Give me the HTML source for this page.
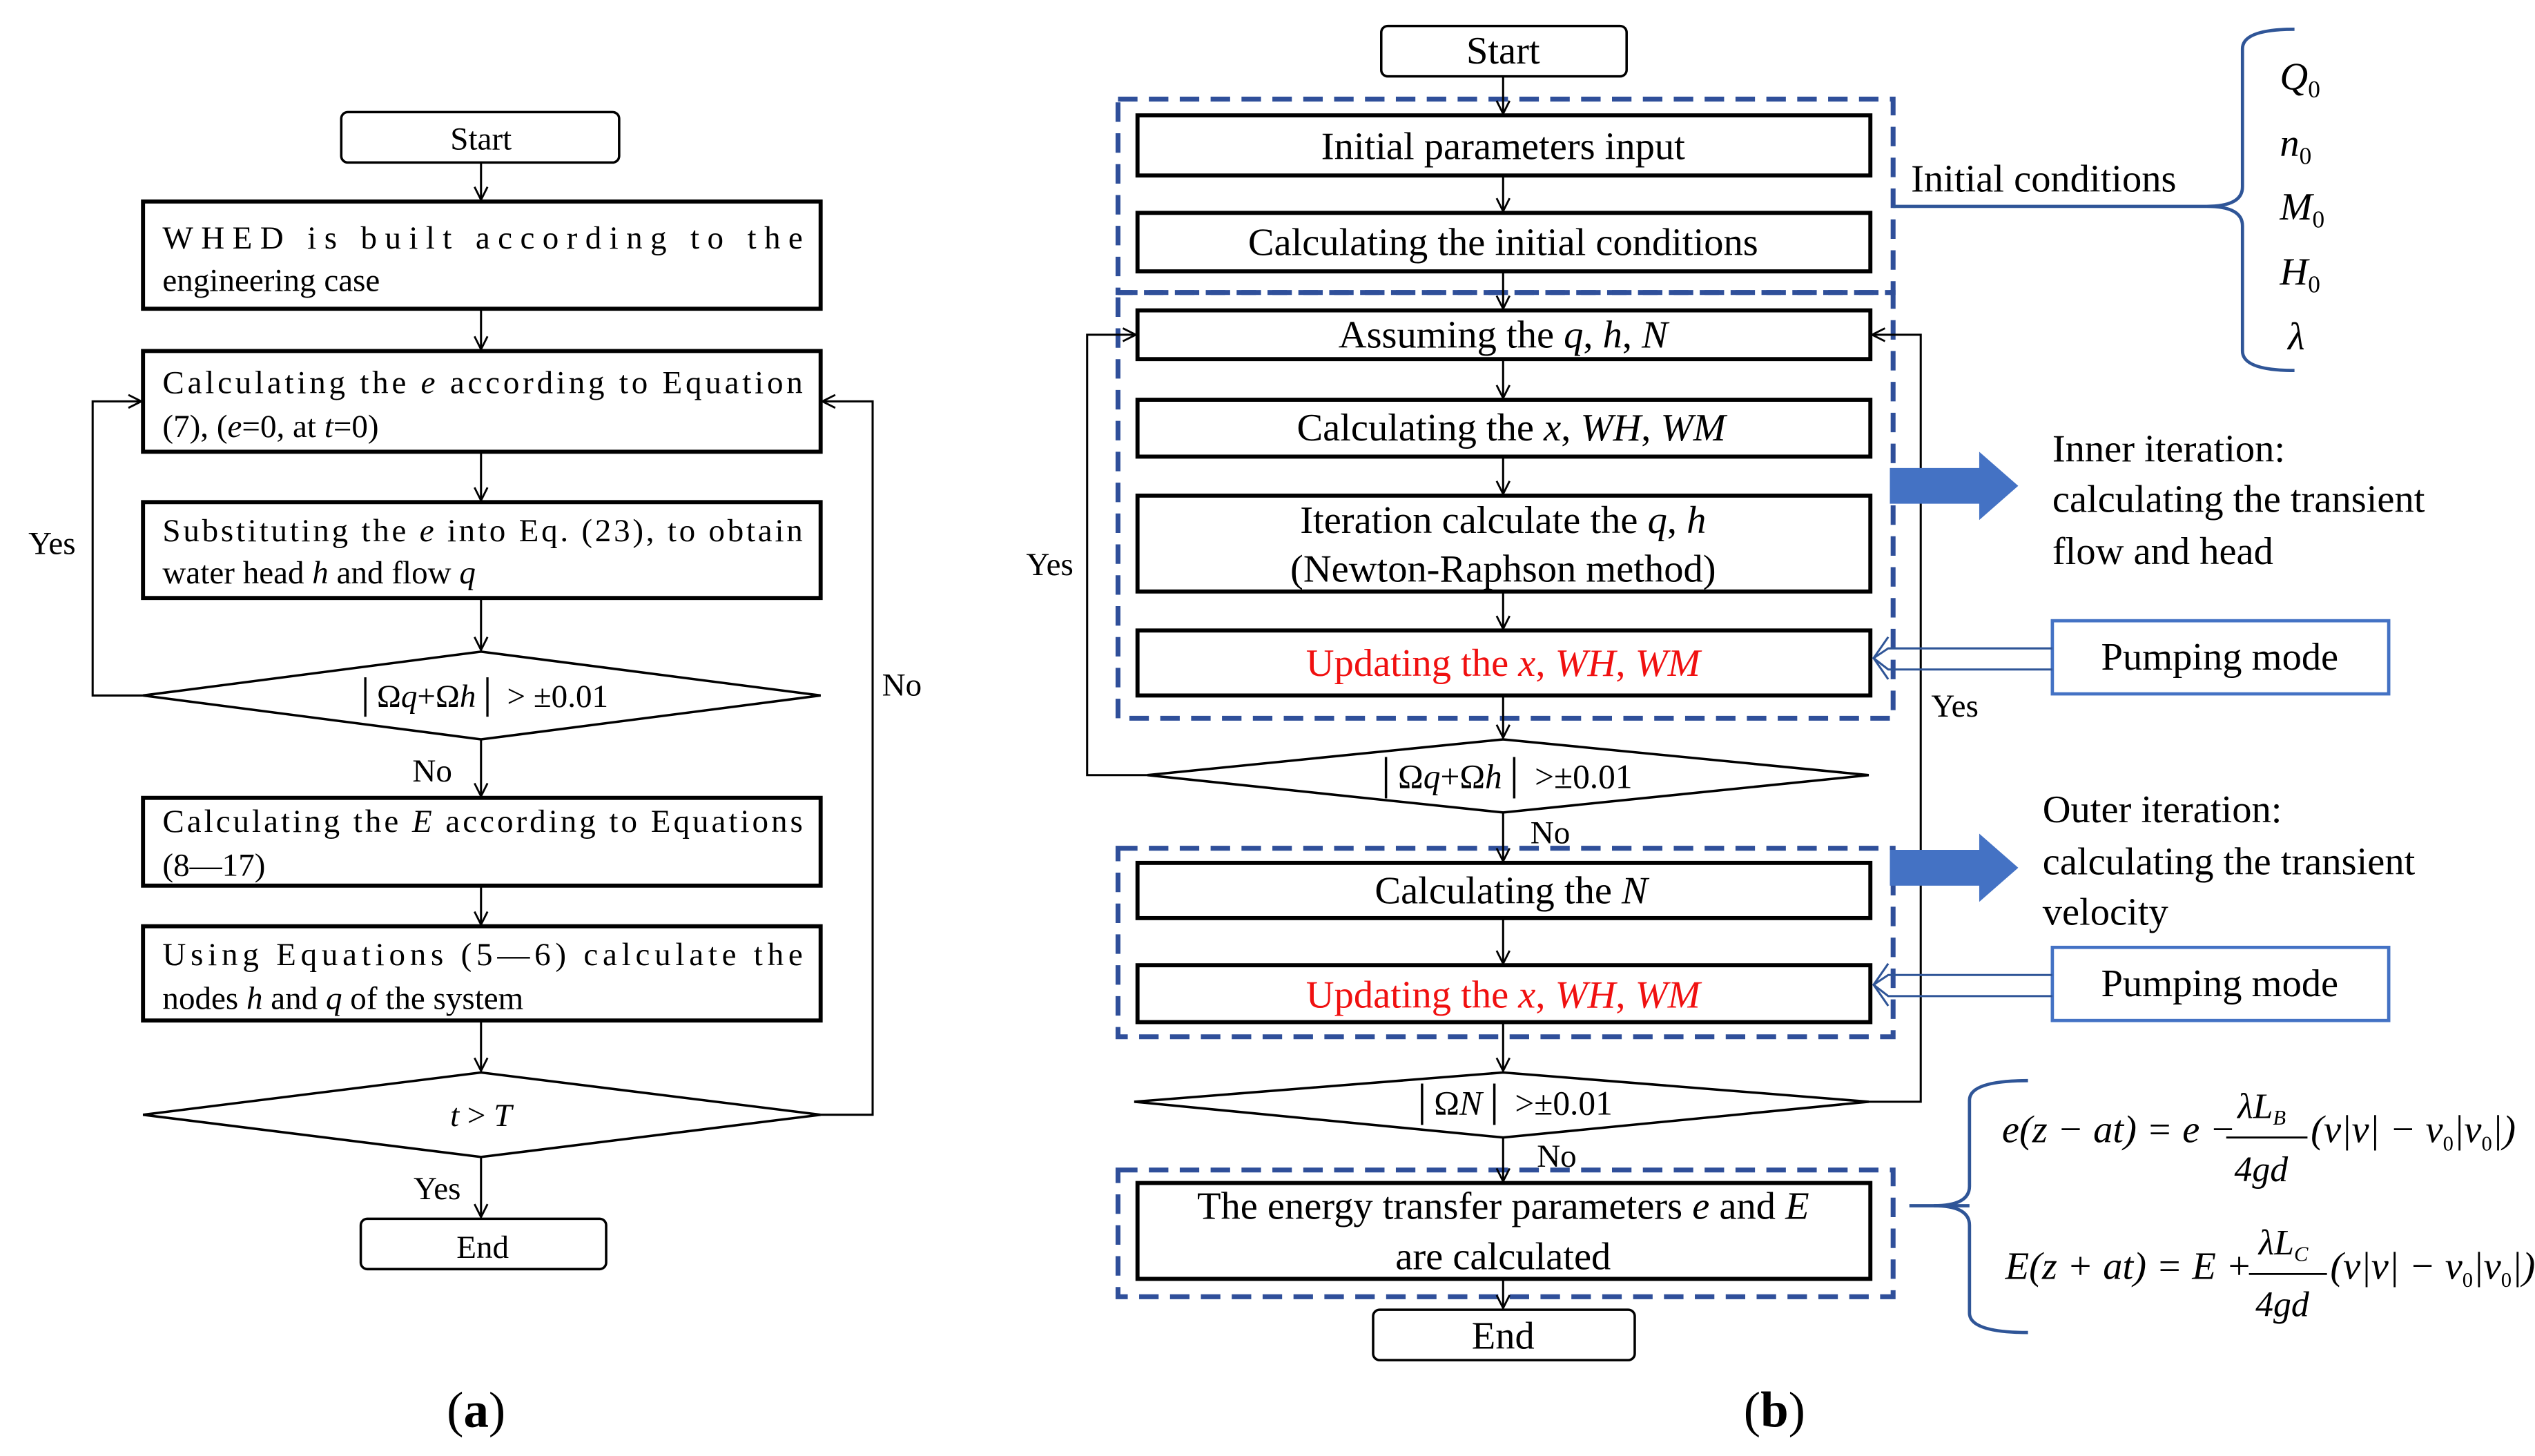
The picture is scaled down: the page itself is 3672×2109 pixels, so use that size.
<!DOCTYPE html>
<html><head><meta charset="utf-8"><style>
html,body{margin:0;padding:0;background:#fff}
svg{display:block}
text{font-family:"Liberation Serif",serif;fill:#000}
</style></head><body>
<svg width="3672" height="2109" viewBox="0 0 1560 896" xmlns="http://www.w3.org/2000/svg">
<defs>
<marker id="ar" markerWidth="10" markerHeight="10" refX="9" refY="5" orient="auto" markerUnits="userSpaceOnUse">
<polyline points="1,1 9,5 1,9" fill="none" stroke="#000" stroke-width="1.2"/>
</marker>
</defs>
<rect width="1560" height="896" fill="#fff"/>

<!-- ===== Panel (a) ===== -->
<g stroke="#000" fill="none">
<rect x="210" y="69" width="171" height="31" rx="4" stroke-width="1.5"/>
<rect x="88" y="124" width="417" height="66" stroke-width="2.5"/>
<rect x="88" y="216" width="417" height="62" stroke-width="2.5"/>
<rect x="88" y="309" width="417" height="59" stroke-width="2.5"/>
<polygon points="88,428 296,401 505,428 296,455" stroke-width="1.5"/>
<rect x="88" y="491" width="417" height="54" stroke-width="2.5"/>
<rect x="88" y="570" width="417" height="58" stroke-width="2.5"/>
<polygon points="88,686 296,660 505,686 296,712" stroke-width="1.5"/>
<rect x="222" y="750" width="151" height="31" rx="4" stroke-width="1.5"/>
<g stroke-width="1.3" marker-end="url(#ar)">
<line x1="296" y1="100" x2="296" y2="123"/>
<line x1="296" y1="190" x2="296" y2="215"/>
<line x1="296" y1="278" x2="296" y2="308"/>
<line x1="296" y1="368" x2="296" y2="400"/>
<line x1="296" y1="455" x2="296" y2="490"/>
<line x1="296" y1="545" x2="296" y2="569"/>
<line x1="296" y1="628" x2="296" y2="659"/>
<line x1="296" y1="712" x2="296" y2="749"/>
<polyline points="88,428 57,428 57,247 87,247"/>
<polyline points="505,686 537,686 537,247 506,247"/>
</g>
</g>
<g font-size="20">
<text x="296" y="92" text-anchor="middle">Start</text>
<text x="100" y="153" textLength="394" lengthAdjust="spacing">WHED  is  built  according  to  the</text>
<text x="100" y="179">engineering case</text>
<text x="100" y="242" textLength="394" lengthAdjust="spacing">Calculating the <tspan font-style="italic">e</tspan> according to Equation</text>
<text x="100" y="269">(7), (<tspan font-style="italic">e</tspan>=0, at <tspan font-style="italic">t</tspan>=0)</text>
<text x="100" y="333" textLength="394" lengthAdjust="spacing">Substituting  the <tspan font-style="italic">e</tspan> into Eq. (23), to obtain</text>
<text x="100" y="359">water head <tspan font-style="italic">h</tspan> and flow <tspan font-style="italic">q</tspan></text>
<text x="296" y="435" text-anchor="middle">│Ω<tspan font-style="italic">q</tspan>+Ω<tspan font-style="italic">h</tspan>│ &gt; ±0.01</text>
<text x="100" y="512" textLength="394" lengthAdjust="spacing">Calculating the <tspan font-style="italic">E</tspan> according to Equations</text>
<text x="100" y="539">(8—17)</text>
<text x="100" y="594" textLength="394" lengthAdjust="spacing">Using Equations (5—6) calculate the</text>
<text x="100" y="621">nodes <tspan font-style="italic">h</tspan> and <tspan font-style="italic">q</tspan> of the system</text>
<text x="296" y="693" text-anchor="middle"><tspan font-style="italic">t</tspan> &gt; <tspan font-style="italic">T</tspan></text>
<text x="297" y="774" text-anchor="middle">End</text>
<text x="32" y="341" text-anchor="middle">Yes</text>
<text x="555" y="428" text-anchor="middle">No</text>
<text x="266" y="481" text-anchor="middle">No</text>
<text x="269" y="738" text-anchor="middle">Yes</text>
</g>
<text x="293" y="878" font-size="31" text-anchor="middle">(<tspan font-weight="bold">a</tspan>)</text>

<!-- ===== Panel (b) ===== -->
<g stroke="#2f4f9a" fill="none" stroke-width="3" stroke-dasharray="12,7">
<rect x="688" y="61" width="477" height="119"/>
<rect x="688" y="180" width="477" height="262"/>
<rect x="688" y="522" width="477" height="116"/>
<rect x="688" y="720" width="477" height="78"/>
</g>
<g stroke="#000" fill="none">
<rect x="850" y="16" width="151" height="31" rx="4" stroke-width="1.5"/>
<rect x="700" y="71" width="451" height="37" stroke-width="2.5"/>
<rect x="700" y="131" width="451" height="36" stroke-width="2.5"/>
<rect x="700" y="191" width="451" height="30" stroke-width="2.5"/>
<rect x="700" y="246" width="451" height="35" stroke-width="2.5"/>
<rect x="700" y="305" width="451" height="59" stroke-width="2.5"/>
<rect x="700" y="388" width="451" height="40" stroke-width="2.5"/>
<polygon points="706,477 925,455 1150,477 925,500" stroke-width="1.5"/>
<rect x="700" y="531" width="451" height="34" stroke-width="2.5"/>
<rect x="700" y="594" width="451" height="35" stroke-width="2.5"/>
<polygon points="698,678 925,660 1150,678 925,700" stroke-width="1.5"/>
<rect x="700" y="728" width="451" height="59" stroke-width="2.5"/>
<rect x="845" y="806" width="161" height="31" rx="4" stroke-width="1.5"/>
<g stroke-width="1.3" marker-end="url(#ar)">
<line x1="925" y1="47" x2="925" y2="70"/>
<line x1="925" y1="108" x2="925" y2="130"/>
<line x1="925" y1="167" x2="925" y2="190"/>
<line x1="925" y1="221" x2="925" y2="245"/>
<line x1="925" y1="281" x2="925" y2="304"/>
<line x1="925" y1="364" x2="925" y2="387"/>
<line x1="925" y1="428" x2="925" y2="454"/>
<line x1="925" y1="500" x2="925" y2="530"/>
<line x1="925" y1="565" x2="925" y2="593"/>
<line x1="925" y1="629" x2="925" y2="659"/>
<line x1="925" y1="700" x2="925" y2="727"/>
<line x1="925" y1="787" x2="925" y2="805"/>
<polyline points="706,477 669,477 669,206 699,206"/>
<polyline points="1150,678 1182,678 1182,206 1152,206"/>
</g>
</g>
<g font-size="24">
<text x="925" y="39" text-anchor="middle">Start</text>
<text x="925" y="98" text-anchor="middle">Initial parameters input</text>
<text x="925" y="157" text-anchor="middle">Calculating the initial conditions</text>
<text x="925" y="214" text-anchor="middle">Assuming the <tspan font-style="italic">q</tspan>, <tspan font-style="italic">h</tspan>, <tspan font-style="italic">N</tspan></text>
<text x="930" y="271" text-anchor="middle">Calculating the <tspan font-style="italic">x</tspan>, <tspan font-style="italic">WH</tspan>, <tspan font-style="italic">WM</tspan></text>
<text x="925" y="328" text-anchor="middle">Iteration calculate the <tspan font-style="italic">q</tspan>, <tspan font-style="italic">h</tspan></text>
<text x="925" y="358" text-anchor="middle">(Newton-Raphson method)</text>
<text x="925" y="416" text-anchor="middle" style="fill:#f01010">Updating the <tspan font-style="italic">x</tspan>, <tspan font-style="italic">WH</tspan>, <tspan font-style="italic">WM</tspan></text>
<text x="925" y="485" text-anchor="middle" font-size="21">│Ω<tspan font-style="italic">q</tspan>+Ω<tspan font-style="italic">h</tspan>│ &gt;±0.01</text>
<text x="930" y="556" text-anchor="middle">Calculating the <tspan font-style="italic">N</tspan></text>
<text x="925" y="620" text-anchor="middle" style="fill:#f01010">Updating the <tspan font-style="italic">x</tspan>, <tspan font-style="italic">WH</tspan>, <tspan font-style="italic">WM</tspan></text>
<text x="930" y="686" text-anchor="middle" font-size="21">│Ω<tspan font-style="italic">N</tspan>│ &gt;±0.01</text>
<text x="925" y="750" text-anchor="middle">The energy transfer parameters <tspan font-style="italic">e</tspan> and <tspan font-style="italic">E</tspan></text>
<text x="925" y="781" text-anchor="middle">are calculated</text>
<text x="925" y="830" text-anchor="middle">End</text>
</g>
<g font-size="20">
<text x="646" y="354" text-anchor="middle">Yes</text>
<text x="1203" y="441" text-anchor="middle">Yes</text>
<text x="954" y="519" text-anchor="middle">No</text>
<text x="958" y="718" text-anchor="middle">No</text>
</g>
<text x="1092" y="878" font-size="31" text-anchor="middle">(<tspan font-weight="bold">b</tspan>)</text>

<!-- right annotations -->
<g font-size="24">
<text x="1176" y="118">Initial conditions</text>
<text x="1263" y="284">Inner iteration:</text>
<text x="1263" y="315">calculating the transient</text>
<text x="1263" y="347">flow and head</text>
<text x="1257" y="506">Outer iteration:</text>
<text x="1257" y="538">calculating the transient</text>
<text x="1257" y="569">velocity</text>
<text x="1366" y="412" text-anchor="middle">Pumping mode</text>
<text x="1366" y="613" text-anchor="middle">Pumping mode</text>
</g>
<g font-size="24" font-style="italic">
<text x="1403" y="55">Q<tspan font-size="15" font-style="normal" dy="5">0</tspan></text>
<text x="1403" y="96">n<tspan font-size="15" font-style="normal" dy="5">0</tspan></text>
<text x="1403" y="135">M<tspan font-size="15" font-style="normal" dy="5">0</tspan></text>
<text x="1403" y="175">H<tspan font-size="15" font-style="normal" dy="5">0</tspan></text>
<text x="1408" y="215">λ</text>
</g>
<g stroke="#2f5597" fill="none" stroke-width="2">
<line x1="1165" y1="127" x2="1358" y2="127"/>
<path d="M1412,18 Q1380,18 1380,30 L1380,115 Q1380,127 1358,127 Q1380,127 1380,139 L1380,216 Q1380,228 1412,228"/>
<line x1="1175" y1="742" x2="1212" y2="742"/>
<path d="M1248,665 Q1212,665 1212,677 L1212,730 Q1212,742 1190,742 Q1212,742 1212,754 L1212,808 Q1212,820 1248,820"/>
</g>
<g fill="#4472c4">
<polygon points="1163,288 1218,288 1218,278 1242,299 1218,320 1218,310 1163,310"/>
<polygon points="1163,523 1218,523 1218,513 1242,534 1218,555 1218,545 1163,545"/>
</g>
<g stroke="#4472c4" fill="none" stroke-width="2">
<rect x="1263" y="382" width="207" height="45"/>
<rect x="1263" y="583" width="207" height="45"/>
</g>
<g stroke="#2f5597" fill="none" stroke-width="1.3">
<polyline points="1263,399 1162,399 1153,405 1162,412 1263,412"/>
<polyline points="1162,392 1153,405 1162,418"/>
<polyline points="1263,600 1162,600 1153,606 1162,613 1263,613"/>
<polyline points="1162,593 1153,606 1162,619"/>
</g>
<!-- equations -->
<g font-size="24" font-style="italic">
<text x="1232" y="703">e(z − at) = e −</text>
<text x="1377" y="688" font-size="22">λL<tspan font-size="13" dy="4">B</tspan></text>
<text x="1375" y="727" font-size="22">4gd</text>
<text x="1422" y="703">(v|v| − v<tspan font-size="13" font-style="normal" dy="5">0</tspan><tspan dy="-5">|v</tspan><tspan font-size="13" font-style="normal" dy="5">0</tspan><tspan dy="-5">|)</tspan></text>
<text x="1234" y="787">E(z + at) = E +</text>
<text x="1390" y="772" font-size="22">λL<tspan font-size="13" dy="4">C</tspan></text>
<text x="1388" y="810" font-size="22">4gd</text>
<text x="1434" y="787">(v|v| − v<tspan font-size="13" font-style="normal" dy="5">0</tspan><tspan dy="-5">|v</tspan><tspan font-size="13" font-style="normal" dy="5">0</tspan><tspan dy="-5">|)</tspan></text>
</g>
<g stroke="#000" stroke-width="1.2">
<line x1="1370" y1="700" x2="1420" y2="700"/>
<line x1="1384" y1="784" x2="1432" y2="784"/>
</g>
</svg>
</body></html>
